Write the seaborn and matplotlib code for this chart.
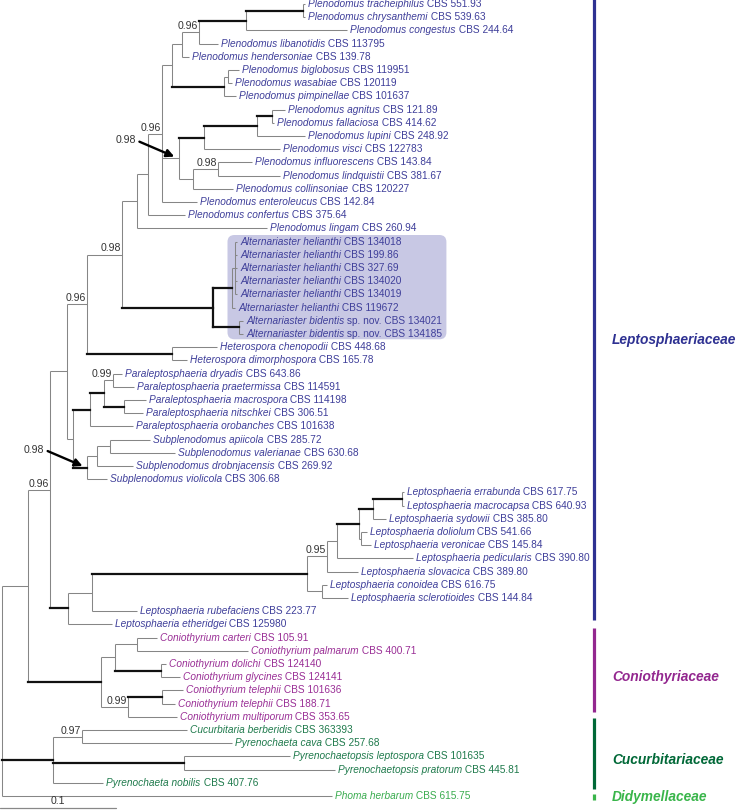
import matplotlib
matplotlib.use("Agg")
import matplotlib.pyplot as plt
from matplotlib.collections import LineCollection
from matplotlib.patches import FancyBboxPatch
from matplotlib.transforms import IdentityTransform
import seaborn as sns

# ---- tree data (branch lengths in substitutions / site) ----
tip_taxon = [
    "Plenodomus tracheiphilus", "Plenodomus chrysanthemi", "Plenodomus congestus",
    "Plenodomus libanotidis", "Plenodomus hendersoniae", "Plenodomus biglobosus",
    "Plenodomus wasabiae", "Plenodomus pimpinellae", "Plenodomus agnitus",
    "Plenodomus fallaciosa", "Plenodomus lupini", "Plenodomus visci",
    "Plenodomus influorescens", "Plenodomus lindquistii", "Plenodomus collinsoniae",
    "Plenodomus enteroleucus", "Plenodomus confertus", "Plenodomus lingam",
    "Alternariaster helianthi", "Alternariaster helianthi", "Alternariaster helianthi",
    "Alternariaster helianthi", "Alternariaster helianthi", "Alternariaster helianthi",
    "Alternariaster bidentis", "Alternariaster bidentis",
    "Heterospora chenopodii", "Heterospora dimorphospora",
    "Paraleptosphaeria dryadis", "Paraleptosphaeria praetermissa",
    "Paraleptosphaeria macrospora", "Paraleptosphaeria nitschkei",
    "Paraleptosphaeria orobanches",
    "Subplenodomus apiicola", "Subplenodomus valerianae",
    "Subplenodomus drobnjacensis", "Subplenodomus violicola",
    "Leptosphaeria errabunda", "Leptosphaeria macrocapsa", "Leptosphaeria sydowii",
    "Leptosphaeria doliolum", "Leptosphaeria veronicae", "Leptosphaeria pedicularis",
    "Leptosphaeria slovacica", "Leptosphaeria conoidea", "Leptosphaeria sclerotioides",
    "Leptosphaeria rubefaciens", "Leptosphaeria etheridgei",
    "Coniothyrium carteri", "Coniothyrium palmarum", "Coniothyrium dolichi",
    "Coniothyrium glycines", "Coniothyrium telephii", "Coniothyrium telephii",
    "Coniothyrium multiporum",
    "Cucurbitaria berberidis", "Pyrenochaeta cava", "Pyrenochaetopsis leptospora",
    "Pyrenochaetopsis pratorum", "Pyrenochaeta nobilis",
    "Phoma herbarum",
]
tip_strain = [
    "CBS 551.93", "CBS 539.63", "CBS 244.64", "CBS 113795", "CBS 139.78",
    "CBS 119951", "CBS 120119", "CBS 101637", "CBS 121.89", "CBS 414.62",
    "CBS 248.92", "CBS 122783", "CBS 143.84", "CBS 381.67", "CBS 120227",
    "CBS 142.84", "CBS 375.64", "CBS 260.94",
    "CBS 134018", "CBS 199.86", "CBS 327.69", "CBS 134020", "CBS 134019", "CBS 119672",
    "sp. nov. CBS 134021", "sp. nov. CBS 134185",
    "CBS 448.68", "CBS 165.78",
    "CBS 643.86", "CBS 114591", "CBS 114198", "CBS 306.51", "CBS 101638",
    "CBS 285.72", "CBS 630.68", "CBS 269.92", "CBS 306.68",
    "CBS 617.75", "CBS 640.93", "CBS 385.80", "CBS 541.66", "CBS 145.84",
    "CBS 390.80", "CBS 389.80", "CBS 616.75", "CBS 144.84", "CBS 223.77", "CBS 125980",
    "CBS 105.91", "CBS 400.71", "CBS 124140", "CBS 124141", "CBS 101636",
    "CBS 188.71", "CBS 353.65",
    "CBS 363393", "CBS 257.68", "CBS 101635", "CBS 445.81", "CBS 407.76",
    "CBS 615.75",
]
tip_family = (["Leptosphaeriaceae"] * 48 + ["Coniothyriaceae"] * 7
              + ["Cucurbitariaceae"] * 5 + ["Didymellaceae"])
tip_parent = [
    "n303", "n303", "n246", "n199", "n182", "n228", "n228", "n224", "n272", "n272",
    "n257", "n204", "n218", "n218", "n193", "n162", "n148", "n137",
    "n234", "n234", "n234", "n234", "n234", "n232", "n239", "n239",
    "h172", "h172",
    "n113", "n113", "n124", "n124", "n90",
    "n110", "n110", "n97", "s87",
    "n402", "n402", "n373", "n361", "n361", "n337", "n327", "n322", "n322",
    "n92", "n68",
    "c137", "c137", "c161", "c161", "c162", "c162", "c128",
    "b82", "b82", "b184", "b184", "b53",
    "root",
]
tip_length = [
    0.0017, 0.0017, 0.0871, 0.0161, 0.0063, 0.0095, 0.0034, 0.0103, 0.0115, 0.0020,
    0.0416, 0.0655, 0.0291, 0.0534, 0.0345, 0.0299, 0.0322, 0.1121,
    0.0022, 0.0022, 0.0022, 0.0022, 0.0022, 0.0023, 0.0034, 0.0034,
    0.0388, 0.0129,
    0.0072, 0.0181, 0.0187, 0.0164, 0.0373,
    0.0345, 0.0560, 0.0316, 0.0167,
    0.0020, 0.0020, 0.0115, 0.0052, 0.0089, 0.0660, 0.0272, 0.0043, 0.0229,
    0.0388, 0.0374,
    0.0172, 0.0962, 0.0046, 0.0166, 0.0181, 0.0109, 0.0417,
    0.0905, 0.1293, 0.0911, 0.1299, 0.0431,
    0.2842,
]

node_name = ["root", "n28", "n50", "n66", "n87", "n122", "n137", "n148", "n162", "n172",
             "n182", "n199", "n246", "n303", "n224", "n228", "n179", "n204", "n257",
             "n272", "n193", "n218", "n213", "n232", "n234", "n239", "h172", "n73",
             "n90", "n104", "n113", "n124", "s87", "n97", "n110", "n68", "n92", "n307",
             "n327", "n337", "n359", "n373", "n402", "n361", "n322", "c101", "c115",
             "c137", "c161", "c128", "c162", "b53", "b82", "b184"]
node_parent = [None, "root", "n28", "n50", "n66", "n87", "n122", "n137", "n148", "n162",
               "n172", "n182", "n199", "n246", "n172", "n224", "n162", "n179", "n204",
               "n257", "n179", "n193", "n122", "n213", "n232", "n213", "n87", "n66",
               "n73", "n90", "n104", "n104", "n73", "s87", "n97", "n50", "n68", "n92",
               "n307", "n327", "n337", "n359", "n373", "n359", "n307", "n28", "c101",
               "c115", "c115", "c101", "c128", "root", "b53", "b53"]
node_length = [0.0, 0.0227, 0.0187, 0.0144, 0.0178, 0.0297, 0.0129, 0.0095, 0.0123, 0.0086,
               0.0084, 0.0152, 0.0403, 0.0491, 0.0448, 0.0034, 0.0147, 0.0216, 0.0454,
               0.0129, 0.0123, 0.0213, 0.0790, 0.0164, 0.0019, 0.0222, 0.0728, 0.0057,
               0.0144, 0.0121, 0.0080, 0.0172, 0.0121, 0.0081, 0.0115, 0.0158, 0.0202,
               0.1853, 0.0172, 0.0086, 0.0195, 0.0116, 0.0250, 0.0012, 0.0129, 0.0627,
               0.0121, 0.0187, 0.0394, 0.0235, 0.0293, 0.0442, 0.0245, 0.1129]

thick_nodes = ["n246", "n303", "n224", "n204", "n257", "n272", "n213", "n232", "n239",
               "h172", "n90", "n104", "n124", "s87", "n68", "n307", "n359", "n373",
               "n402", "c101", "c161", "c162", "b53", "b184"]

support_node = ["n199", "n162", "n218", "n122", "n87", "n113", "n50", "n327", "c128", "b82"]
support_value = ["0.96", "0.96", "0.98", "0.98", "0.96", "0.99", "0.96", "0.95", "0.99", "0.97"]
arrow_node = ["n179", "s87"]
arrow_value = ["0.98", "0.98"]

families = ["Leptosphaeriaceae", "Coniothyriaceae", "Cucurbitariaceae", "Didymellaceae"]
highlight_tips = list(range(18, 26))

# ---- style ----
fam_tip_color = {"Leptosphaeriaceae": "#3f3f9a", "Coniothyriaceae": "#9a2f96",
                 "Cucurbitariaceae": "#1f7a4c", "Didymellaceae": "#3aac4f"}
fam_bar_color = {"Leptosphaeriaceae": "#2e3192", "Coniothyriaceae": "#93278f",
                 "Cucurbitariaceae": "#006837", "Didymellaceae": "#39b54a"}
fam_label_y = {"Leptosphaeriaceae": 340, "Coniothyriaceae": 677,
               "Cucurbitariaceae": 760, "Didymellaceae": 797}
# bar extent relative to first / last tip row of each family
fam_bar_pad = {"Leptosphaeriaceae": (-0.75, -0.3), "Coniothyriaceae": (-0.7, -0.35),
               "Cucurbitariaceae": (-0.9, 0.5), "Didymellaceae": (-0.15, 0.3)}

sns.set_theme(style="white")
plt.rcParams["font.family"] = ["Liberation Sans", "DejaVu Sans"]

W, H = 750, 811
px = 0.1 / 116          # scale bar 0.1 is ~116 px wide
row = 13.2              # px between tips
top = 4                 # px of first tip

fig = plt.figure(figsize=(W / 100, H / 100), dpi=100)
ax = fig.add_axes([0, 0, 1, 1])
ax.set_xlim(-2 * px, (W - 2) * px)
ax.set_ylim((H - top) / row, -top / row)
ax.axis("off")

# ---- layout ----
depth = {}
children = {n: [] for n in node_name}
for n, p, l in zip(node_name, node_parent, node_length):
    depth[n] = 0.0 if p is None else depth[p] + l
    if p is not None:
        children[p].append(n)
for i, p in enumerate(tip_parent):
    children[p].append(i)

ypos = {i: float(i) for i in range(len(tip_taxon))}


def get_y(n):
    if n in ypos:
        return ypos[n]
    ys = [get_y(c) for c in children[n]]
    ypos[n] = (min(ys) + max(ys)) / 2
    return ypos[n]


get_y("root")

thin, thick = [], []
for n, p in zip(node_name, node_parent):
    ys = [ypos[c] for c in children[n]]
    seg_v = [(depth[n], min(ys)), (depth[n], max(ys))]
    (thick if n == "n213" else thin).append(seg_v)
    if p is None:
        continue
    seg = [(depth[p], ypos[n]), (depth[n], ypos[n])]
    (thick if n in thick_nodes else thin).append(seg)
for i, (p, l) in enumerate(zip(tip_parent, tip_length)):
    thin.append([(depth[p], i), (depth[p] + l, i)])

ax.add_collection(LineCollection(thin, colors="#868686", linewidths=0.75, zorder=2))
ax.add_collection(LineCollection(thick, colors="#111111", linewidths=1.6,
                                 capstyle="projecting", zorder=3))

# ---- tip labels ----
fs = 7.3
tip_texts = []
for i, (tx, st, fam) in enumerate(zip(tip_taxon, tip_strain, tip_family)):
    x = depth[tip_parent[i]] + tip_length[i] + 3 * px
    c = fam_tip_color[fam]
    t1 = ax.text(x, i, tx, style="italic", fontsize=fs, color=c, va="center",
                 ha="left", zorder=4)
    t2 = ax.annotate(" " + st, xy=(1, 0), xycoords=t1, va="bottom", ha="left",
                     fontsize=fs, color=c, zorder=4)
    tip_texts.append(t2)

# ---- support values ----
for n, v in zip(support_node, support_value):
    ax.text(depth[n] - 1 * px, ypos[n] - 0.08, v, fontsize=fs + 0.3, color="#333333",
            ha="right", va="bottom", zorder=4)
for n, v in zip(arrow_node, arrow_value):
    ax.annotate(v, xy=(depth[n] - 1 * px, ypos[n]), xytext=(-42, 18),
                textcoords="offset pixels", fontsize=fs + 0.3, color="#333333",
                ha="right", va="center", zorder=5,
                arrowprops=dict(arrowstyle="-|>,head_length=0.6,head_width=0.3",
                                color="black", lw=1.7, relpos=(1, 0.5),
                                shrinkA=0, shrinkB=3))

# ---- family bars ----
bar_x = 594
for fam in families:
    idx = [i for i, f in enumerate(tip_family) if f == fam]
    p0, p1 = fam_bar_pad[fam]
    y0, y1 = min(idx) + p0, max(idx) + p1
    ax.plot([(bar_x - 2) * px] * 2, [y0, y1], color=fam_bar_color[fam], lw=2.3,
            solid_capstyle="butt", zorder=3)
    ax.text((612 - 2) * px, (fam_label_y[fam] - top) / row, fam, fontsize=9.9,
            weight="bold", style="italic", color=fam_bar_color[fam], va="center",
            ha="left")

# ---- scale bar ----
ax.plot([-2 * px, -2 * px + 0.1], [(808 - top) / row] * 2, color="#888888", lw=0.9)
ax.text(-2 * px + 0.05, (806 - top) / row, "0.1", fontsize=fs + 0.3, color="#333333",
        ha="center", va="bottom")

# ---- highlight box around Alternariaster (pixel coordinates) ----
fig.canvas.draw()
r = fig.canvas.get_renderer()
right = max(tip_texts[i].get_window_extent(r).x1 for i in highlight_tips) + 4
to_disp = ax.transData.transform
x_left = to_disp((depth["n232"] - 5 * px, 0))[0]
y_top = to_disp((0, highlight_tips[0] - 0.5))[1]
y_bot = to_disp((0, highlight_tips[-1] + 0.4))[1]
box = FancyBboxPatch((x_left, y_bot), right - x_left, y_top - y_bot,
                     boxstyle="round,pad=0,rounding_size=7", transform=IdentityTransform(),
                     facecolor="#c8c8e4", edgecolor="none", zorder=1)
ax.add_patch(box)

fig.savefig("out.png", dpi=100)
